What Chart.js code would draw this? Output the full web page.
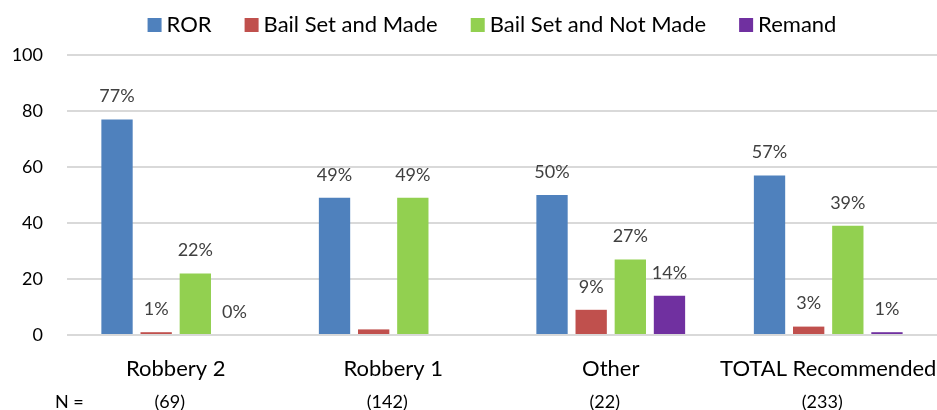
<!DOCTYPE html>
<html>
<head>
<meta charset="utf-8">
<script src="https://cdn.jsdelivr.net/npm/chart.js@4/dist/chart.umd.min.js"></script>
<style>
  html, body { margin: 0; padding: 0; background: #ffffff; }
  #wrap { width: 937px; height: 410px; position: relative; }
</style>
</head>
<body>
<div id="wrap"><canvas id="c" width="937" height="410"></canvas></div>
<script>
const categories = ["Robbery 2", "Robbery 1", "Other", "TOTAL Recommended"];
const nLabels = ["(69)", "(142)", "(22)", "(233)"];
const nPrefix = "N =";
const seriesNames = ["ROR", "Bail Set and Made", "Bail Set and Not Made", "Remand"];
const rorValues = [77, 49, 50, 57];
const bailMadeValues = [1, 2, 9, 3];
const bailNotMadeValues = [22, 49, 27, 39];
const remandValues = [0, 0, 14, 1];
const rorLabels = ["77%", "49%", "50%", "57%"];
const bailMadeLabels = ["1%", "", "9%", "3%"];
const bailNotMadeLabels = ["22%", "49%", "27%", "39%"];
const remandLabels = ["0%", "", "14%", "1%"];
const yTicks = [0, 20, 40, 60, 80, 100];

const colors = ["#4f81bd", "#c0504d", "#92d050", "#7030a0"];
const allValues = [rorValues, bailMadeValues, bailNotMadeValues, remandValues];
const allLabels = [rorLabels, bailMadeLabels, bailNotMadeLabels, remandLabels];
const FONT = "Lato";

const dataLabelPlugin = {
  id: "dataLabels",
  afterDatasetsDraw(chart) {
    const ctx = chart.ctx;
    ctx.save();
    ctx.font = "18px " + FONT;
    ctx.fillStyle = "#404040";
    ctx.textAlign = "center";
    ctx.textBaseline = "middle";
    chart.data.datasets.forEach((ds, di) => {
      const meta = chart.getDatasetMeta(di);
      meta.data.forEach((bar, i) => {
        const txt = ds.valueLabels[i];
        if (txt) ctx.fillText(txt, bar.x, bar.y - 23);
      });
    });
    ctx.restore();
  }
};

const nRowPlugin = {
  id: "nRow",
  afterDraw(chart) {
    const ctx = chart.ctx;
    const xs = chart.scales.x;
    ctx.save();
    ctx.font = "18px " + FONT;
    ctx.fillStyle = "#000000";
    ctx.textBaseline = "middle";
    ctx.textAlign = "left";
    ctx.fillText(nPrefix, 55, 402);
    ctx.textAlign = "center";
    nLabels.forEach((t, i) => ctx.fillText(t, xs.getPixelForValue(i) - 6, 402));
    ctx.restore();
  }
};

const legendPlugin = {
  id: "customLegend",
  afterDraw(chart) {
    const ctx = chart.ctx;
    ctx.save();
    ctx.font = "22px " + FONT;
    ctx.textBaseline = "middle";
    ctx.textAlign = "left";
    const box = 14, gapText = 5, gapItem = 33;
    const items = chart.data.datasets.map(d => ({ text: d.label, color: d.backgroundColor, w: ctx.measureText(d.label).width }));
    let total = 0;
    items.forEach((it, i) => { total += box + gapText + it.w + (i < items.length - 1 ? gapItem : 0); });
    let x = 492 - total / 2;
    const y = 25;
    items.forEach(it => {
      ctx.fillStyle = it.color;
      ctx.fillRect(x, y - 7, box, box);
      x += box + gapText;
      ctx.fillStyle = "#000000";
      ctx.fillText(it.text, x, y);
      x += it.w + gapItem;
    });
    ctx.restore();
  }
};

const datasets = seriesNames.map((name, i) => ({
  label: name,
  data: allValues[i],
  valueLabels: allLabels[i],
  backgroundColor: colors[i],
  borderWidth: 0,
  categoryPercentage: 0.72,
  barPercentage: 0.8
}));

new Chart(document.getElementById("c"), {
  type: "bar",
  data: { labels: categories, datasets: datasets },
  options: {
    responsive: false,
    animation: false,
    devicePixelRatio: 1,
    layout: { padding: { top: 55, right: 0, left: 0, bottom: 0 } },
    plugins: {
      legend: { display: false },
      tooltip: { enabled: false }
    },
    scales: {
      x: {
        grid: { display: false, drawTicks: false },
        border: { display: false },
        ticks: { font: { family: FONT, size: 22 }, color: "#000000", padding: 21, maxRotation: 0, autoSkip: false },
        afterFit(scale) { scale.height = 75; scale.paddingLeft = 0; scale.paddingRight = 0; }
      },
      y: {
        min: 0, max: 100,
        afterBuildTicks(scale) { scale.ticks = yTicks.map(v => ({ value: v })); },
        grid: { color: "#d9d9d9", lineWidth: 2, drawTicks: false },
        border: { display: false },
        ticks: { font: { family: FONT, size: 18 }, color: "#000000", padding: 24 },
        afterFit(scale) { scale.width = 67; scale.paddingTop = 0; scale.paddingBottom = 0; }
      }
    }
  },
  plugins: [dataLabelPlugin, nRowPlugin, legendPlugin]
});
</script>
</body>
</html>
